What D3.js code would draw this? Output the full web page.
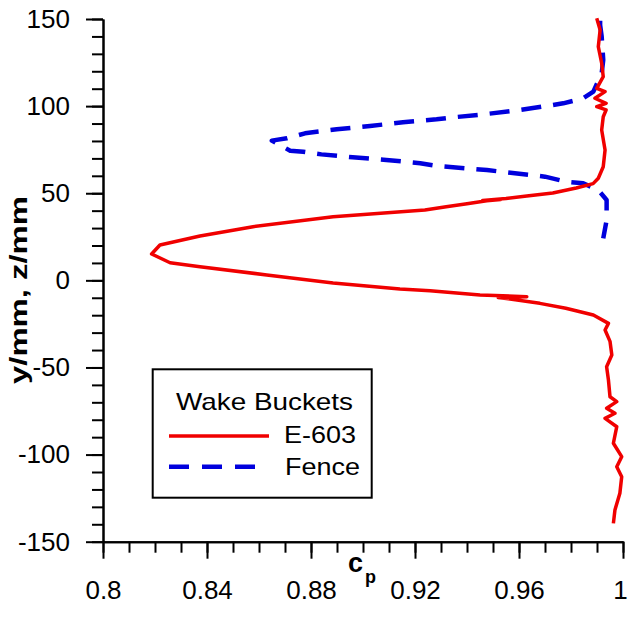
<html>
<head>
<meta charset="utf-8">
<script src="https://cdn.jsdelivr.net/npm/d3@7"></script>
<style>
  body { margin: 0; background: white; }
  text { font-family: Arial, "Liberation Sans", sans-serif; }
</style>
</head>
<body>
<svg id="chart" width="629" height="639"></svg>
<script>
// E-603 wake bucket, top to bottom
let yE603 = [150.4, 143.7, 134.1, 124.6, 116.9, 110.2, 108.3, 104.5, 101.6, 99.7, 97.8, 93.9,
  86.3, 74.8, 65.2, 58.6, 55.5, 53.0, 50.1, 48.4, 47.0, 45.9, 46.4, 45.7, 44.0, 42.3, 40.4,
  36.5, 30.8, 25.5,
  20.3, 15.1, 10.1, 7.8, 3.1, -1.5, -5, -6, -8.4, -9.4, -9.8, -13.2, -16, -19.9, -24.7,
  -28.5, -35, -42.8, -49.6, -57.2, -66.8, -69.6, -73.4, -76.3, -79.2, -84, -93.5,
  -101.2, -107, -112.7, -122.2, -131.8, -139.5]
let cpE603 = [0.9899, 0.9912, 0.9905, 0.9918, 0.9924, 0.9899, 0.9931, 0.9892, 0.9935, 0.9899, 0.9935, 0.9924,
  0.9918, 0.9931, 0.9924, 0.9905, 0.9885, 0.982, 0.973, 0.963, 0.955, 0.946, 0.953, 0.9476, 0.940, 0.932, 0.9238,
  0.8885, 0.8577, 0.8373,
  0.8219, 0.8187, 0.8258, 0.8373, 0.863, 0.8885, 0.9142, 0.9258, 0.945, 0.963, 0.952, 0.968, 0.978, 0.9886, 0.9944,
  0.9931, 0.995, 0.9957, 0.9937, 0.9944, 0.995, 0.9976, 0.9937, 0.9969, 0.9931, 0.9976, 0.9963,
  0.9995, 0.9976, 0.9995, 0.9988, 0.9969, 0.9963]

// Fence wake bucket
let yFence = [149, 146.6, 139.9, 126.5, 118.8, 108.3, 104.5, 101.6, 100.6, 97.8, 95.5, 93.6,
  92.4, 90.7, 88.6, 86.7, 84.4, 81.5, 80.2, 74.4, 73.8, 72.3, 70.6, 69.1, 67.2, 65.6,
  63.3, 59.5, 56.6, 55.7, 51.8, 46.1, 34.6, 24.1]
let cpFence = [0.9912, 0.9912, 0.9918, 0.9924, 0.9918, 0.9886, 0.9847, 0.977, 0.973, 0.9604, 0.9477, 0.935,
  0.9283, 0.9154, 0.9027, 0.8899, 0.8777, 0.8707, 0.8649, 0.872, 0.877, 0.884, 0.896, 0.909, 0.922, 0.929,
  0.9477, 0.970, 0.9783, 0.9847, 0.9905, 0.9937, 0.9937, 0.9924]

let xTicks = [0.8, 0.84, 0.88, 0.92, 0.96, 1]
let yTicks = [-150, -100, -50, 0, 50, 100, 150]

let svg = d3.select("#chart")

let x = d3.scaleLinear().domain([0.8, 1]).range([103, 623])
let y = d3.scaleLinear().domain([-150, 150]).range([541.7, 19])

// minor ticks first
svg.append("g")
    .attr("transform", "translate(0,541.7)")
    .call(d3.axisBottom(x).tickValues(d3.range(0, 21).map(i => 0.8 + i * 0.01))
        .tickSize(11).tickSizeOuter(0).tickFormat(""))
svg.append("g")
    .attr("transform", "translate(103,0)")
    .call(d3.axisLeft(y).tickValues(d3.range(-150, 151, 10))
        .tickSize(11).tickSizeOuter(0).tickFormat(""))

let xAxis = svg.append("g")
    .attr("transform", "translate(0,541.7)")
    .call(d3.axisBottom(x).tickValues(xTicks).tickSize(17).tickSizeOuter(0)
        .tickPadding(22).tickFormat(d => String(+d.toFixed(2))))
let yAxis = svg.append("g")
    .attr("transform", "translate(103,0)")
    .call(d3.axisLeft(y).tickValues(yTicks).tickSize(17).tickSizeOuter(0)
        .tickPadding(16).tickFormat(d => String(d)))

svg.selectAll(".domain, .tick line").attr("stroke", "black").attr("stroke-width", 2)
svg.selectAll(".tick text").attr("font-size", 26).attr("fill", "black")
    .attr("font-family", "Arial, 'Liberation Sans', sans-serif")
// keep the last label inside the picture
xAxis.selectAll(".tick text").filter(d => d === 1).attr("dx", -3)

// axis titles
svg.append("text")
    .attr("transform", "translate(27,290) rotate(-90)")
    .attr("text-anchor", "middle")
    .attr("font-size", 24).attr("font-weight", "bold")
    .attr("textLength", 188).attr("lengthAdjust", "spacingAndGlyphs")
    .text("y/mm, z/mm")
svg.append("text").attr("x", 348).attr("y", 572)
    .attr("font-size", 27).attr("font-weight", "bold").text("c")
svg.append("text").attr("x", 365).attr("y", 583)
    .attr("font-size", 18).attr("font-weight", "bold").text("p")

let line = d3.line()

svg.append("path")
    .attr("d", line(cpFence.map((c, i) => [x(c), y(yFence[i])])))
    .attr("fill", "none").attr("stroke", "#0000dd").attr("stroke-width", 4.5)
    .attr("stroke-dasharray", "20,12").attr("stroke-linejoin", "round")

svg.append("path")
    .attr("d", line(cpE603.map((c, i) => [x(c), y(yE603[i])])))
    .attr("fill", "none").attr("stroke", "#f00000").attr("stroke-width", 3.5)
    .attr("stroke-linejoin", "round")

// legend
let legend = svg.append("g")
legend.append("rect").attr("x", 152.7).attr("y", 369.3).attr("width", 219).attr("height", 128.4)
    .attr("fill", "white").attr("stroke", "black").attr("stroke-width", 2)
legend.append("text").attr("x", 176).attr("y", 410).attr("font-size", 24)
    .attr("textLength", 177).attr("lengthAdjust", "spacingAndGlyphs").text("Wake Buckets")
legend.append("line").attr("x1", 169).attr("x2", 269).attr("y1", 436).attr("y2", 436)
    .attr("stroke", "#f00000").attr("stroke-width", 3.5)
legend.append("text").attr("x", 284).attr("y", 443).attr("font-size", 24)
    .attr("textLength", 72).attr("lengthAdjust", "spacingAndGlyphs").text("E-603")
legend.append("line").attr("x1", 169).attr("x2", 255).attr("y1", 466.7).attr("y2", 466.7)
    .attr("stroke", "#0000dd").attr("stroke-width", 4.5).attr("stroke-dasharray", "20,13")
legend.append("text").attr("x", 285).attr("y", 475).attr("font-size", 24)
    .attr("textLength", 75).attr("lengthAdjust", "spacingAndGlyphs").text("Fence")
</script>
</body>
</html>
